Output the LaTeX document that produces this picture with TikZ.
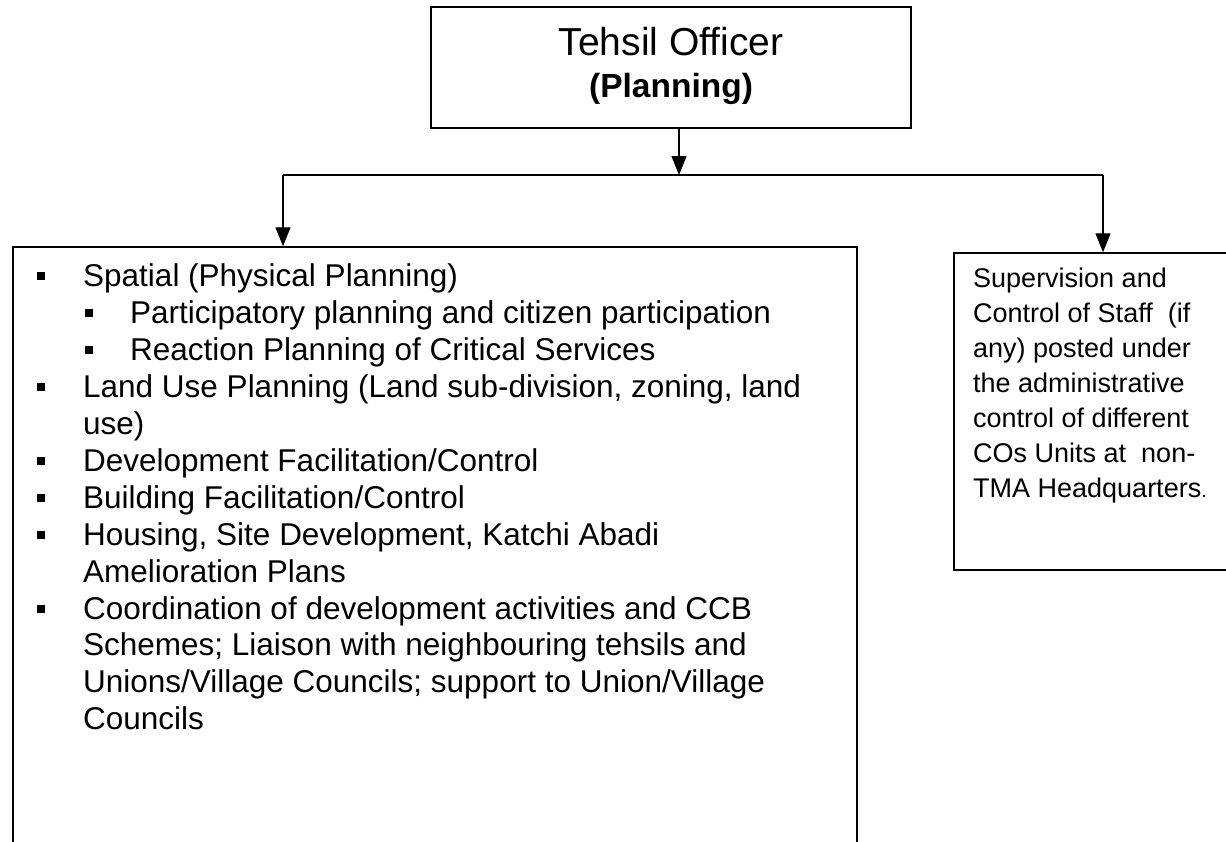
\documentclass[tikz,border=0pt]{standalone}
\usepackage{fontspec}
\setmainfont{Liberation Sans}
\usetikzlibrary{arrows.meta}
\begin{document}
\begin{tikzpicture}[x=1pt,y=-1pt,
  box/.style={draw=black, line width=1.5pt, inner sep=0pt},
  conn/.style={draw=black, line width=1.3pt},
  arr/.style={conn, -{Triangle[width=15pt,length=19pt]}},
  headfont/.style={anchor=base, inner sep=0pt},
  item/.style={anchor=base west, inner sep=0pt, font=\fontsize{31.5}{37}\selectfont},
  note/.style={anchor=base west, inner sep=0pt, font=\fontsize{27}{35}\selectfont},
  sq/.style={fill=black, inner sep=0pt, minimum size=8pt}
]
\clip (0,0) rectangle (1226,841);
\fill[white] (0,0) rectangle (1226,841);

% head office
\node[box, minimum width=480pt, minimum height=121pt] (head) at (671,67.5) {};
\node[headfont, font=\fontsize{39}{39}\selectfont] (headA) at (671,55) {Tehsil Officer};
\node[headfont, font=\fontsize{33.5}{33.5}\selectfont\bfseries] (headB) at (671,97) {(Planning)};

% functions box (runs past the lower edge)
\node[box, minimum width=844pt, minimum height=623pt] (tasks) at (435,558.5) {};
% staff box (runs past the right edge)
\node[box, minimum width=286pt, minimum height=317pt] (staff) at (1097,411.5) {};

% connectors
\coordinate (j) at (679,175);
\coordinate (jl) at (283,175);
\coordinate (jr) at (1103,175);
\draw[arr] (head.south -| j) -- (j);
\draw[conn] (jl) -- (jr);
\draw[arr] (jl) -- (jl |- tasks.north);
\draw[arr] (jr) -- (jr |- staff.north);

% list of functions
\node[sq] (b1) at (41,276) {};
\node[item] (l1) at (83,286) {Spatial (Physical Planning)};
\node[sq] (b2) at (89,313) {};
\node[item] (l2) at (130,323) {Participatory planning and citizen participation};
\node[sq] (b3) at (89,350) {};
\node[item] (l3) at (130,360) {Reaction Planning of Critical Services};
\node[sq] (b4) at (41,387) {};
\node[item] (l4) at (83,397) {Land Use Planning (Land sub-division, zoning, land};
\node[item] (l5) at (83,434) {use)};
\node[sq] (b6) at (41,461) {};
\node[item] (l6) at (83,471) {Development Facilitation/Control};
\node[sq] (b7) at (41,498) {};
\node[item] (l7) at (83,508) {Building Facilitation/Control};
\node[sq] (b8) at (41,535) {};
\node[item] (l8) at (83,545) {Housing, Site Development, Katchi Abadi};
\node[item] (l9) at (83,582) {Amelioration Plans};
\node[sq] (b10) at (41,609) {};
\node[item] (l10) at (83,619) {Coordination of development activities and CCB};
\node[item] (l11) at (83,655) {Schemes; Liaison with neighbouring tehsils and};
\node[item] (l12) at (83,692) {Unions/Village Councils; support to Union/Village};
\node[item] (l13) at (83,729) {Councils};

% staff note
\node[note] (s1) at (973,287) {Supervision and};
\node[note] (s2) at (973,322) {Control of Staff\ \ (if};
\node[note] (s3) at (973,357) {any) posted under};
\node[note] (s4) at (973,392) {the administrative};
\node[note] (s5) at (973,427) {control of different};
\node[note] (s6) at (973,462) {COs Units at\ \ non-};
\node[note] (s7) at (973,497) {TMA Headquarters{\fontsize{20}{20}\selectfont.}};
\end{tikzpicture}
\end{document}
